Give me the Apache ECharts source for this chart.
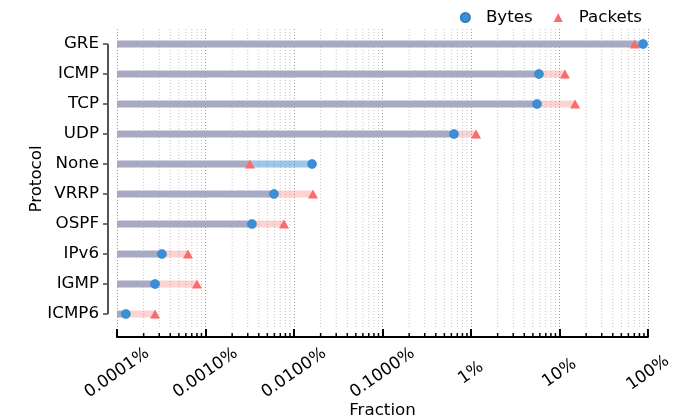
<!DOCTYPE html>
<html><head><meta charset="utf-8">
<script src="https://cdn.jsdelivr.net/npm/echarts@6/dist/echarts.min.js"></script>
<style>html,body{margin:0;padding:0;background:#fff}#c{width:683px;height:420px}</style>
</head><body><div id="c"></div>
<script>
// ---- data ----
const categories = ['GRE','ICMP','TCP','UDP','None','VRRP','OSPF','IPv6','IGMP','ICMP6'];
const bytesFrac   = [0.88, 0.0586, 0.0557, 0.00643, 0.000160, 0.0000594, 0.0000335, 0.00000322, 0.00000269, 0.00000126];
const packetsFrac = [0.71, 0.115, 0.150, 0.0114, 0.0000318, 0.000164, 0.0000771, 0.00000634, 0.0000080, 0.00000269];
const tickValues = [1e-6, 1e-5, 1e-4, 1e-3, 1e-2, 1e-1, 1];
const tickLabels = ['0.0001%','0.0010%','0.0100%','0.1000%','1%','10%','100%'];
const minorMantissas = [2,3,4,5,6,7,8,9];

// ---- styles ----
const FONT = 'DejaVu Sans';
const FS = 16.7;
const BLUE = '#3a8fd6';
const RED = '#fa6b6b';
const GRID = {left:117, right:35, top:29, bottom:91};
const X_OFFSET = 8, Y_OFFSET = 9;

const minorValues = [];
for (let k = 0; k < tickValues.length - 1; k++) {
  for (const m of minorMantissas) minorValues.push([tickValues[k] * m, 0]);
}

const chart = echarts.init(document.getElementById('c'), null, {renderer:'canvas'});
const option = {
  animation: false,
  backgroundColor: '#fff',
  textStyle: {fontFamily: FONT},
  grid: Object.assign({containLabel:false, outerBoundsMode:'none'}, GRID),
  legend: {
    data: ['Bytes','Packets'],
    right: 36, top: 4,
    itemWidth: 9, itemHeight: 9, itemGap: 21,
    textStyle: {fontFamily: FONT, fontSize: FS, color:'#000', padding:[0,0,0,11]}
  },
  xAxis: {
    type: 'log', logBase: 10, min: 1e-6, max: 1, splitNumber: 6,
    offset: X_OFFSET,
    name: 'Fraction', nameLocation: 'middle', nameGap: 65, nameMoveOverlap: false,
    nameTextStyle: {fontFamily: FONT, fontSize: FS, color:'#000'},
    axisLine: {show:true, lineStyle:{color:'#000', width:2}},
    axisTick: {show:true, inside:true, length:8, lineStyle:{color:'#000', width:2}},
    axisLabel: {
      rotate: 35, align:'center', verticalAlign:'middle', margin: 36,
      fontFamily: FONT, fontSize: FS, color:'#000',
      formatter: v => {
        const idx = tickValues.findIndex(t => Math.abs(Math.log10(t) - Math.log10(v)) < 1e-6);
        return idx >= 0 ? tickLabels[idx] : '';
      }
    },
    splitLine: {show:true, lineStyle:{color:'#9a9a9a', width:1, type:[1,2]}}
  },
  yAxis: {
    type: 'category', data: categories, inverse: true,
    offset: Y_OFFSET,
    name: 'Protocol', nameLocation: 'middle', nameGap: 63, nameMoveOverlap: false,
    nameTextStyle: {fontFamily: FONT, fontSize: FS, color:'#000'},
    axisLine: {show:false},
    axisTick: {show:true, alignWithLabel:true, length:5, lineStyle:{color:'#444', width:1.5}},
    axisLabel: {fontFamily: FONT, fontSize: FS, color:'#000', margin: 9},
    splitLine: {show:false}
  },
  series: [
    {
      name: 'minor', type: 'custom', z: 1, silent: true, clip: false,
      data: minorValues, encode: {x:0, y:1},
      renderItem: (params, api) => {
        const x = api.coord([api.value(0), 0])[0];
        const cs = params.coordSys;
        const top = cs.y, bot = cs.y + cs.height, ay = bot + X_OFFSET;
        return {type:'group', children:[
          {type:'line', shape:{x1:x, y1:top, x2:x, y2:bot}, style:{stroke:'#c4c4c4', lineWidth:1, lineDash:[1,2]}},
          {type:'line', shape:{x1:x, y1:ay, x2:x, y2:ay-4}, style:{stroke:'#000', lineWidth:1.5}}
        ]};
      }
    },
    {
      name: 'ranges', type: 'custom', z: 2, silent: true,
      data: categories.map((c, i) => [i, bytesFrac[i], packetsFrac[i]]),
      encode: {y:0, x:[1,2]},
      renderItem: (params, api) => {
        const i = api.value(0), b = api.value(1), p = api.value(2);
        const lo = Math.min(b, p), hi = Math.max(b, p);
        const start = api.coord([1e-6, i]);
        const pLo = api.coord([lo, i]);
        const pHi = api.coord([hi, i]);
        const h = 7, y = start[1] - h/2;
        return {type:'group', children:[
          {type:'rect', shape:{x:start[0], y:y, width:pLo[0]-start[0], height:h}, style:{fill:'#a8a9c3'}},
          {type:'rect', shape:{x:pLo[0], y:y, width:pHi[0]-pLo[0], height:h},
           style:{fill: p > b ? 'rgba(250,107,107,0.3)' : 'rgba(58,143,214,0.5)'}}
        ]};
      }
    },
    {
      name: 'Packets', type: 'scatter', z: 3,
      symbol: 'triangle', symbolSize: [10, 9],
      itemStyle: {color: RED, opacity: 1},
      data: categories.map((c, i) => [packetsFrac[i], c])
    },
    {
      name: 'Bytes', type: 'scatter', z: 4,
      symbol: 'circle', symbolSize: 9,
      itemStyle: {color: BLUE, opacity: 1, borderColor:'#2f7fc4', borderWidth:0.6},
      data: categories.map((c, i) => [bytesFrac[i], c])
    }
  ]
};
chart.setOption(option);

// y-axis spine trimmed to first..last category
const y1 = chart.convertToPixel({yAxisIndex:0}, categories[0]);
const y2 = chart.convertToPixel({yAxisIndex:0}, categories[categories.length-1]);
const xs = chart.convertToPixel({xAxisIndex:0}, 1e-6) - Y_OFFSET;
chart.setOption({graphic: [{type:'line', silent:true, z:10,
  shape:{x1:xs, y1:y1, x2:xs, y2:y2}, style:{stroke:'#555', lineWidth:2}}]});
</script>
</body></html>
